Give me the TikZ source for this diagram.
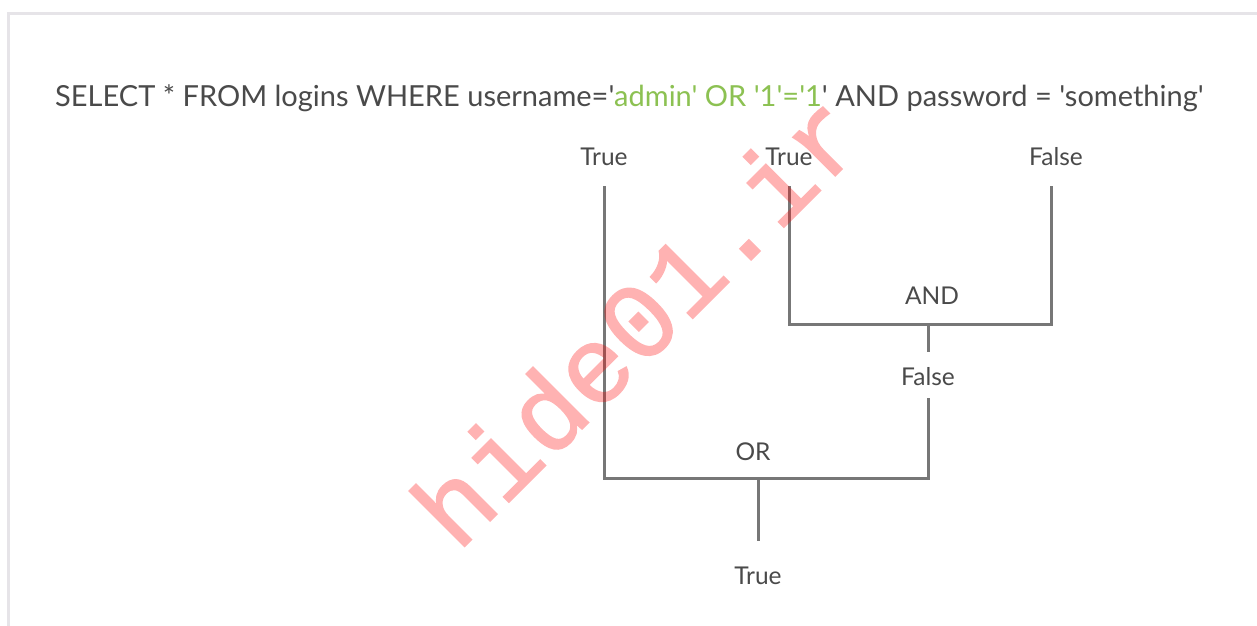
\documentclass[tikz,border=0pt]{standalone}
\usepackage{fontspec}
\setmainfont{Lato}[Ligatures=TeXOff]
\newfontfamily\wmfont{Liberation Mono}[Ligatures=TeXOff,FakeBold=1.5]
\usepackage{tikz}
\usetikzlibrary{calc}
\definecolor{ink}{HTML}{4A4A4A}
\definecolor{wirecol}{HTML}{777777}
\definecolor{hilite}{HTML}{8CC152}
\definecolor{framecol}{HTML}{E6E4E8}
\tikzstyle{frame} = [
  draw=framecol,
  line width=3pt,
]
\tikzstyle{wire} = [
  draw=wirecol,
  line width=3pt,
]
\tikzstyle{query} = [
  anchor=base west,
  inner sep=0pt,
  text=ink,
  font=\fontsize{29}{35}\selectfont,
]
\tikzstyle{val} = [
  anchor=base,
  inner sep=0pt,
  text=ink,
  font=\fontsize{24.5}{30}\selectfont,
]
\tikzstyle{watermark} = [
  anchor=base,
  inner sep=0pt,
  rotate=45,
  text=red,
  font=\wmfont\fontsize{108}{108}\selectfont,
]

\begin{document}
\begin{tikzpicture}[
    x=1pt,
    y=-1pt,
  ]
  \useasboundingbox (0,0) rectangle (1257,625);
  \fill[white] (0,0) rectangle (1257,625);
  \draw[frame] (8,630) -- (8,13.5) -- (1262,13.5);
  \node[query] (sql) at (55,106)
    {SELECT * FROM logins WHERE username='\textcolor{hilite}{admin' OR '1'='1}' AND password = 'something'};
  % leaves
  \node[val] (t1) at (604,165) {True};
  \node[val] (t2) at (789,165) {True};
  \node[val] (f1) at (1056,165) {False};
  % operators and results
  \node[val] (and) at (932,304) {AND};
  \node[val] (f2) at (928,385) {False};
  \node[val] (or) at (753,460) {OR};
  \node[val] (t3) at (758,584) {True};
  \coordinate (andR) at (1051,324);
  \coordinate (andM) at (928,324);
  \coordinate (orR) at (928,478);
  \coordinate (orM) at (758,478);
  \draw[wire] ($(t2.base)+(0,21)$) |- (andR) -- ($(f1.base)+(-5,21)$);
  \draw[wire] (andM) -- ($(f2.base)+(0,-33)$);
  \draw[wire] ($(t1.base)+(0,21)$) |- (orR) -- ($(f2.base)+(0,13)$);
  \draw[wire] (orM) -- ($(t3.base)+(0,-43)$);
  \begin{scope}[transparency group, opacity=0.3]
    \node[watermark] (wm) at (664,347) {hide01.ir};
  \end{scope}
\end{tikzpicture}
\end{document}
